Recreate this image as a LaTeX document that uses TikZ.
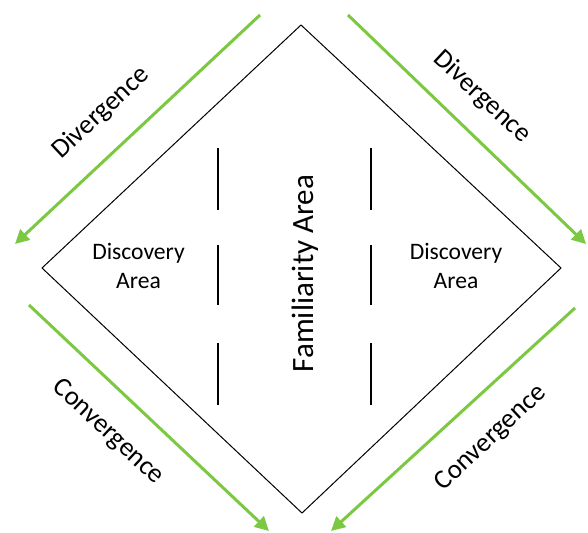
\documentclass[tikz,border=0pt]{standalone}
\usepackage{fontspec}
\setmainfont{Carlito}
\usetikzlibrary{arrows.meta}
\definecolor{arrowgreen}{RGB}{124,200,66}
\tikzset{
  greenarrow/.style={draw=arrowgreen, line width=3pt, -{Triangle[length=14pt,width=14pt]}},
  diamondline/.style={draw=black, line width=1pt, line join=miter},
  sepline/.style={draw=black, line width=1.2pt},
  lbl/.style={font=\fontsize{23.6}{29}\selectfont, inner sep=0pt, align=center},
  diaglbl/.style={font=\fontsize{27}{32}\selectfont, inner sep=0pt},
  biglbl/.style={font=\fontsize{31}{36}\selectfont, inner sep=0pt}
}
\begin{document}
\begin{tikzpicture}[x=1pt,y=-1pt]
\useasboundingbox (0,0) rectangle (588,532);
% diamond
\coordinate (T) at (301,25);
\coordinate (L) at (42,268);
\coordinate (R) at (561,268);
\coordinate (B) at (302,513);
\draw[diamondline] (T) -- (R) -- (B) -- (L) -- cycle;
% separator lines
\foreach \x/\n in {218/l, 371/r}{
  \coordinate (\n a1) at (\x,148); \coordinate (\n a2) at (\x,210);
  \coordinate (\n b1) at (\x,245); \coordinate (\n b2) at (\x,305);
  \coordinate (\n c1) at (\x,343); \coordinate (\n c2) at (\x,405);
  \draw[sepline] (\n a1) -- (\n a2);
  \draw[sepline] (\n b1) -- (\n b2);
  \draw[sepline] (\n c1) -- (\n c2);
}
% green arrows
\coordinate (tls) at (260,15);  \coordinate (tle) at (15,244);
\coordinate (trs) at (348,15);  \coordinate (tre) at (586,244);
\coordinate (bls) at (29,305);  \coordinate (ble) at (269,531);
\coordinate (brs) at (575,308); \coordinate (bre) at (331,531);
\draw[greenarrow] (tls) -- (tle);
\draw[greenarrow] (trs) -- (tre);
\draw[greenarrow] (bls) -- (ble);
\draw[greenarrow] (brs) -- (bre);
% labels
\node[diaglbl, rotate=43]  (div1) at (101,113) {Divergence};
\node[diaglbl, rotate=-43] (div2) at (482,97) {Divergence};
\node[diaglbl, rotate=-43] (con1) at (108,432) {Convergence};
\node[diaglbl, rotate=43]  (con2) at (491,438) {Convergence};
\node[lbl] (disc1) at (138.5,266) {Discovery\\Area};
\node[lbl] (disc2) at (456,266) {Discovery\\Area};
\node[biglbl, rotate=90, anchor=base] (fam) at (313,273.5) {Familiarity Area};
\end{tikzpicture}
\end{document}
